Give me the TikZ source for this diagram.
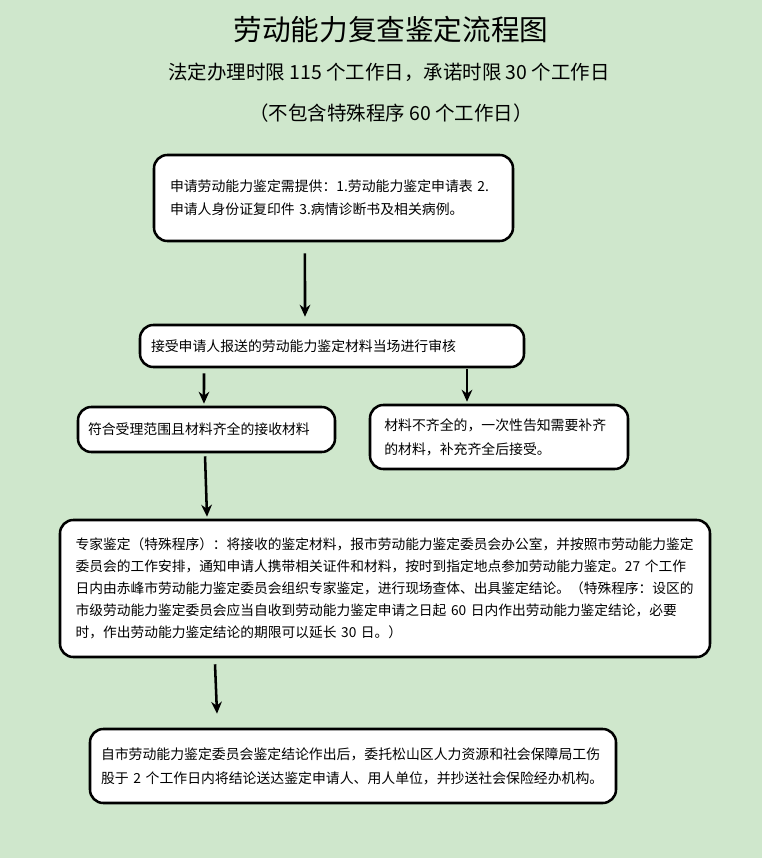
\documentclass[tikz,border=0pt]{standalone}
\usepackage{fontspec}
\usepackage{xcolor}
\usepackage{tikz}
\usetikzlibrary{arrows.meta}
\newfontfamily\cjk{Noto Sans CJK SC}
\definecolor{bggreen}{RGB}{207,231,204}

\begin{document}
\begin{tikzpicture}[
  x=0.75pt, y=-0.75pt,
  every node/.style = {font=\cjk},
  box/.style   = {rectangle, rounded corners=10pt, draw, line width=1.9pt,
                  fill=white, align=left, inner xsep=0pt, inner ysep=0pt,
                  font=\cjk\fontsize{10.4}{17.5}\selectfont},
  title/.style = {font=\cjk\fontsize{21.5}{24}\selectfont},
  sub/.style   = {font=\cjk\fontsize{14.6}{17}\selectfont},
  arr/.style   = {-{Stealth[length=9pt,width=8pt]}, line width=1.9pt},
]

% ── Background and page frame ────────────────────────────────
\fill[bggreen] (0,0) rectangle (762,858);
\useasboundingbox (0,0) rectangle (762,858);

% ── Heading ──────────────────────────────────────────────────
\node[title] (head)  at (391,30)  {劳动能力复查鉴定流程图};
\node[sub]   (limit) at (389,72)  {法定办理时限 115 个工作日，承诺时限 30 个工作日};
\node[sub]   (excl)  at (391,113) {（不包含特殊程序 60 个工作日）};

% ── Steps ────────────────────────────────────────────────────
\node[box, minimum width=269.25pt, minimum height=64.5pt, text width=245.25pt]
  (apply) at (333.5,198)
  {申请劳动能力鉴定需提供：1.劳动能力鉴定申请表 2.\\申请人身份证复印件 3.病情诊断书及相关病例。};
\node[box, minimum width=288pt, minimum height=31.5pt, text width=271.5pt]
  (review) at (332,346)
  {接受申请人报送的劳动能力鉴定材料当场进行审核};
\node[box, minimum width=192.75pt, minimum height=33.75pt, text width=177.75pt]
  (accept) at (206.5,429.5)
  {符合受理范围且材料齐全的接收材料};
\node[box, minimum width=193.5pt, minimum height=48pt, text width=172pt,
      font=\cjk\fontsize{10.4}{18}\selectfont]
  (supplement) at (499,437)
  {材料不齐全的，一次性告知需要补齐\\的材料，补充齐全后接受。};
\node[box, minimum width=487.5pt, minimum height=102.75pt, text width=464pt,
      font=\cjk\fontsize{10.3}{16.5}\selectfont]
  (expert) at (385,588.5)
  {专家鉴定（特殊程序）：将接收的鉴定材料，报市劳动能力鉴定委员会办公室，并按照市劳动能力鉴定\\
   委员会的工作安排，通知申请人携带相关证件和材料，按时到指定地点参加劳动能力鉴定。27 个工作\\
   日内由赤峰市劳动能力鉴定委员会组织专家鉴定，进行现场查体、出具鉴定结论。（特殊程序：设区的\\
   市级劳动能力鉴定委员会应当自收到劳动能力鉴定申请之日起 60 日内作出劳动能力鉴定结论，必要\\
   时，作出劳动能力鉴定结论的期限可以延长 30 日。）};
\node[box, minimum width=394.5pt, minimum height=55.5pt, text width=378pt,
      font=\cjk\fontsize{10.4}{18}\selectfont]
  (deliver) at (353,766)
  {自市劳动能力鉴定委员会鉴定结论作出后，委托松山区人力资源和社会保障局工伤\\股于 2 个工作日内将结论送达鉴定申请人、用人单位，并抄送社会保险经办机构。\par\vspace{10.5pt}};

% ── Arrows ───────────────────────────────────────────────────
\draw[arr] ([xshift=-21.4pt,yshift=-8.25pt]apply.south)
        -- ([xshift=-20.25pt,yshift=5.25pt]review.north);
\draw[arr] ([xshift=-96pt,yshift=-3.75pt]review.south)
        -- ([xshift=-1.9pt,yshift=1.5pt]accept.north);
\draw[arr] ([xshift=101.25pt,yshift=-0.75pt]review.south)
        -- ([xshift=-24pt,yshift=1.5pt]supplement.north);
\draw[arr] ([xshift=-1.1pt,yshift=-2.25pt]accept.south)
        -- ([xshift=-133.5pt,yshift=1.5pt]expert.north);
\draw[arr] ([xshift=-127.5pt,yshift=-4.5pt]expert.south)
        -- ([xshift=-102pt,yshift=10.5pt]deliver.north);

\end{tikzpicture}
\end{document}
